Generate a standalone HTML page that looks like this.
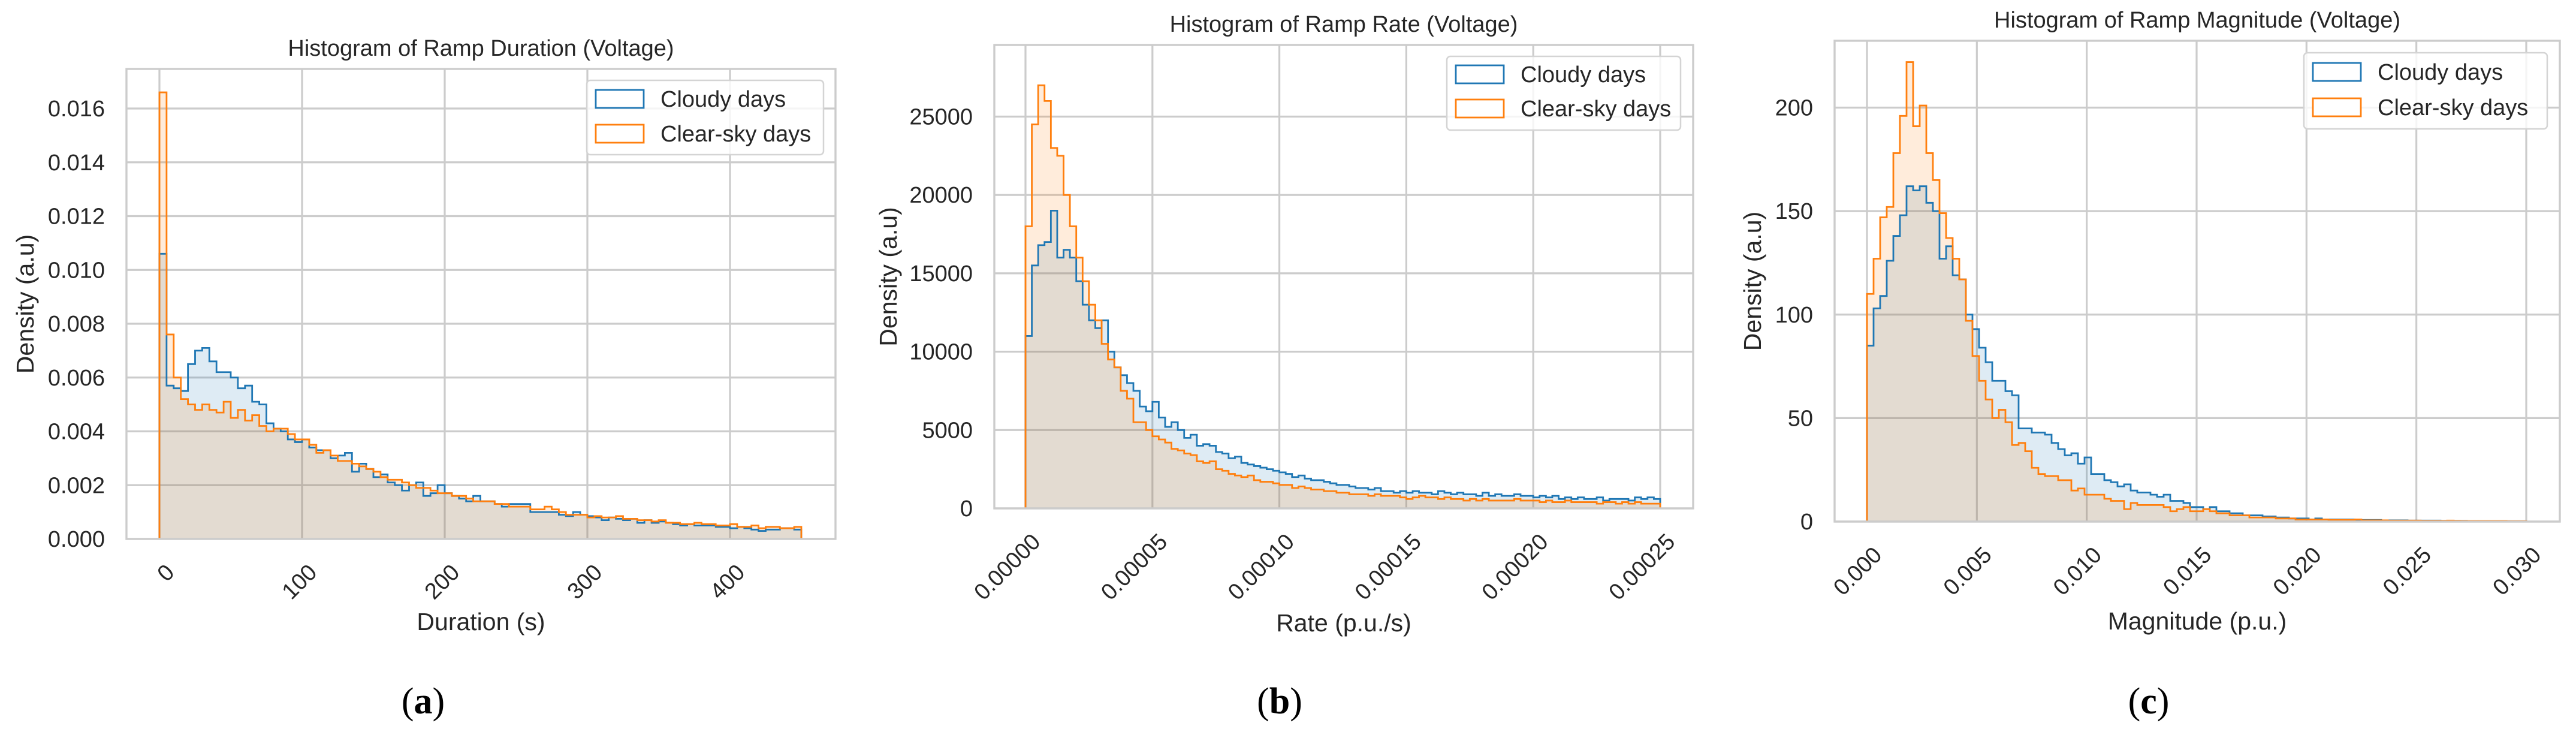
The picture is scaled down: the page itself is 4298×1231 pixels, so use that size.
<!DOCTYPE html>
<html><head><meta charset="utf-8">
<style>
html,body{margin:0;padding:0;background:#fff;}
svg{display:block;font-family:"Liberation Sans",Arial,sans-serif;}
</style></head>
<body>
<svg id="fig" width="4298" height="1231" viewBox="0 0 4298 1231" xmlns="http://www.w3.org/2000/svg"></svg>
<script>
// ---------- Panel (a): Ramp Duration ----------
const durBinWidth = 5;
const durCloudy = [10.6,5.7,5.6,5.5,6.5,7.0,7.1,6.6,6.2,6.2,6.0,5.6,5.7,5.1,5.0,4.3,4.1,4.0,3.7,3.6,3.7,3.4,3.3,3.3,3.0,3.1,3.2,2.5,2.8,2.6,2.3,2.4,2.1,2.0,1.8,2.0,2.1,1.6,1.7,2.0,1.7,1.6,1.5,1.4,1.6,1.4,1.4,1.3,1.2,1.3,1.3,1.3,1.0,1.0,1.0,1.0,0.9,0.85,1.0,0.9,0.85,0.8,0.7,0.8,0.75,0.7,0.75,0.6,0.7,0.6,0.65,0.6,0.55,0.5,0.55,0.5,0.5,0.5,0.45,0.45,0.4,0.45,0.4,0.35,0.3,0.35,0.35,0.4,0.4,0.35];
const durClear = [16.6,7.6,6.0,5.2,5.0,4.8,5.0,4.8,4.7,5.1,4.5,4.8,4.4,4.6,4.2,4.0,4.1,4.1,3.9,3.7,3.7,3.5,3.2,3.3,3.1,2.9,2.9,2.8,2.7,2.6,2.5,2.3,2.2,2.2,2.1,2.0,1.9,1.9,1.8,1.7,1.7,1.6,1.6,1.5,1.4,1.4,1.4,1.3,1.3,1.2,1.2,1.2,1.1,1.1,1.2,1.1,1.0,0.9,0.9,0.9,0.8,0.85,0.8,0.8,0.85,0.75,0.75,0.7,0.7,0.65,0.7,0.6,0.6,0.55,0.55,0.6,0.55,0.55,0.5,0.5,0.55,0.45,0.45,0.5,0.4,0.45,0.45,0.4,0.4,0.45];
const durValueScale = 0.001;
const durXTicks = [0,100,200,300,400];
const durXTickLabels = ["0","100","200","300","400"];
const durYTicks = [0,0.002,0.004,0.006,0.008,0.010,0.012,0.014,0.016];
const durYTickLabels = ["0.000","0.002","0.004","0.006","0.008","0.010","0.012","0.014","0.016"];

// ---------- Panel (b): Ramp Rate ----------
const rateBinWidth = 0.0000025;
const rateCloudy = [11,15.5,16.8,17,19,16,16.5,16,14.5,13,12,11.5,12,10,9,8.5,8,7.5,6.5,6.2,6.8,5.8,5.2,5.5,5.0,4.5,4.7,4.0,4.1,4.0,3.6,3.5,3.2,3.3,2.9,2.8,2.7,2.6,2.5,2.4,2.3,2.2,2.0,2.1,1.9,1.8,1.8,1.7,1.6,1.5,1.5,1.4,1.3,1.3,1.2,1.3,1.1,1.1,1.0,1.1,1.0,1.1,1.0,1.0,0.9,1.1,1.0,0.9,1.0,0.9,0.9,0.8,1.0,0.8,0.9,0.8,0.8,0.9,0.8,0.8,0.7,0.8,0.7,0.8,0.6,0.7,0.6,0.7,0.6,0.6,0.7,0.5,0.6,0.6,0.6,0.5,0.7,0.6,0.7,0.6];
const rateClear = [18,24.5,27,26,23,22.5,20,18,16,14.5,13,12,10.5,9.5,9,7.5,7,5.5,5.5,5.0,4.6,4.4,4.2,3.8,3.7,3.5,3.4,3.0,2.9,3.0,2.5,2.4,2.2,2.1,2.0,2.1,1.8,1.7,1.7,1.6,1.5,1.5,1.3,1.4,1.3,1.2,1.2,1.1,1.1,1.0,1.0,0.9,0.9,0.9,0.8,0.9,0.8,0.8,0.8,0.7,0.6,0.7,0.8,0.7,0.7,0.6,0.7,0.6,0.6,0.5,0.6,0.5,0.6,0.5,0.5,0.5,0.5,0.6,0.5,0.5,0.5,0.4,0.5,0.4,0.4,0.5,0.4,0.4,0.4,0.4,0.3,0.4,0.4,0.3,0.4,0.3,0.4,0.3,0.3,0.3];
const rateValueScale = 1000;
const rateXTicks = [0,0.00005,0.0001,0.00015,0.0002,0.00025];
const rateXTickLabels = ["0.00000","0.00005","0.00010","0.00015","0.00020","0.00025"];
const rateYTicks = [0,5000,10000,15000,20000,25000];
const rateYTickLabels = ["0","5000","10000","15000","20000","25000"];

// ---------- Panel (c): Ramp Magnitude ----------
const magBinWidth = 0.0003;
const magCloudy = [85,103,109,126,138,148,162,160,162,154,150,127,133,119,117,100,93,84,77,68,68,63,61,45,45,43,43,42,38,35,32,33,28,31,23,23,20,19,17,18,15,14,14,13,12,13,10,10,9,7,7,6,7,5,5,4,4,3,3,3,2.5,2.5,2,2,1.5,1.5,1.5,1,1.5,1,1,1,1,1,0.8,0.8,0.8,0.8,0.6,0.6,0.6,0.6,0.5,0.5,0.5,0.5,0.5,0.4,0.4,0.4,0.4,0.3,0.3,0.3,0.3,0.3,0.3,0.2,0.2,0.2];
const magClear = [110,127,147,152,178,196,222,191,201,178,165,149,137,127,117,97,80,68,59,50,54,48,37,38,34,26,23,22,22,20,20,15,16,13,13,13,11,10,10,6,9,8,8,8,8,7,5,6,7,5,5,6,5,4,4,3,3,3,2,2,2,2,1.5,1.5,1.5,1,1,1,1,1,0.8,0.8,0.8,0.8,1,0.6,0.6,0.6,0.6,0.5,0.5,0.5,0.5,0.5,0.4,0.4,0.4,0.4,0.5,0.4,0.3,0.3,0.3,0.3,0.3,0.3,0.3,0.2,0.2,0.2];
const magValueScale = 1;
const magXTicks = [0,0.005,0.01,0.015,0.02,0.025,0.03];
const magXTickLabels = ["0.000","0.005","0.010","0.015","0.020","0.025","0.030"];
const magYTicks = [0,50,100,150,200];
const magYTickLabels = ["0","50","100","150","200"];

const legendLabels = ["Cloudy days","Clear-sky days"];
</script>
<script>
const NS = "http://www.w3.org/2000/svg";
const svg = document.getElementById("fig");
const BLUE = "#1f77b4", ORANGE = "#ff7f0e", GRID = "#cccccc", TXT = "#262626";

function mk(tag, attrs, parent) {
  const e = document.createElementNS(NS, tag);
  for (const k in attrs) e.setAttribute(k, attrs[k]);
  (parent || svg).appendChild(e);
  return e;
}
function lin(d0, d1, r0, r1) { return v => r0 + (v - d0) / (d1 - d0) * (r1 - r0); }

function stepPath(vals, bw, scale, xs, ys) {
  let d = "M" + xs(0).toFixed(2) + "," + ys(0).toFixed(2);
  vals.forEach((v, i) => {
    const y = ys(v * scale).toFixed(2);
    d += " L" + xs(i * bw).toFixed(2) + "," + y + " L" + xs((i + 1) * bw).toFixed(2) + "," + y;
  });
  d += " L" + xs(vals.length * bw).toFixed(2) + "," + ys(0).toFixed(2);
  return d;
}

function panel(p) {
  const g = mk("g", {});
  
  
  const xs = lin(p.xd[0], p.xd[1], p.xr[0], p.xr[1]);
  const ys = lin(p.yd[0], p.yd[1], p.yr[0], p.yr[1]);
  const bg = mk("rect", {x:p.L, y:p.T, width:p.R-p.L, height:p.B-p.T, fill:"#fff"}, g);
  
  
  p.xTicks.forEach((t) => {
    const l = mk("line", {x1:xs(t), x2:xs(t), y1:p.T, y2:p.B, stroke:GRID, "stroke-width":3.2}, g);
    
    
  });
  p.yTicks.forEach((t) => {
    const l = mk("line", {x1:p.L, x2:p.R, y1:ys(t), y2:ys(t), stroke:GRID, "stroke-width":3.2}, g);
    
    
  });
  const series = [[p.cloudy, BLUE, 'cloudy'], [p.clear, ORANGE, 'clear-sky']];
  series.forEach(([vals, col, nm]) => {
    const d = stepPath(vals, p.bw, p.scale, xs, ys);
    const f = mk("path", {d:d + " Z", fill:col, "fill-opacity":0.15, stroke:"none"}, g);
    
    
  });
  series.forEach(([vals, col, nm]) => {
    const d = stepPath(vals, p.bw, p.scale, xs, ys);
    const s = mk("path", {d:d, fill:"none", stroke:col, "stroke-width":2.8, "stroke-linejoin":"miter"}, g);
    
    
  });
  const sp = mk("rect", {x:p.L, y:p.T, width:p.R-p.L, height:p.B-p.T, fill:"none", stroke:GRID, "stroke-width":3.4}, g);
  
  
  p.yTicks.forEach((t, i) => {
    const tx = mk("text", {x:p.L-36, y:ys(t)+13, "text-anchor":"end", "font-size":38, fill:TXT}, g);
    tx.textContent = p.yLabels[i];
    
    
  });
  p.xTicks.forEach((t, i) => {
    const ex = xs(t) + 27, ey = p.B + 58;
    const tx = mk("text", {x:ex, y:ey, "text-anchor":"end", "font-size":38, fill:TXT, transform:"rotate(-45 "+ex+" "+ey+")"}, g);
    tx.textContent = p.xLabels[i];
    
    
  });
  const ti = mk("text", {x:(p.L+p.R)/2, y:p.titleY, "text-anchor":"middle", "font-size":38, fill:TXT}, g);
  ti.textContent = p.title;
  
  
  const xl = mk("text", {x:(p.L+p.R)/2, y:p.xLabelY, "text-anchor":"middle", "font-size":41, fill:TXT}, g);
  xl.textContent = p.xTitle;
  
  
  const cy = (p.T+p.B)/2;
  const yl = mk("text", {x:p.yLabelX, y:cy, "text-anchor":"middle", "font-size":41, fill:TXT, transform:"rotate(-90 "+p.yLabelX+" "+cy+")"}, g);
  yl.textContent = "Density (a.u)";
  
  
  const lg = mk("g", {}, g);
  
  
  const lb = mk("rect", {x:p.leg[0], y:p.leg[1], width:p.leg[2], height:p.leg[3], rx:6, fill:"#fff", "fill-opacity":0.8, stroke:"#d4d4d4", "stroke-width":2.5}, lg);
  
  
  [[BLUE, p.legRows[0]], [ORANGE, p.legRows[1]]].forEach(([col, ry], i) => {
    const pr = mk("rect", {x:p.leg[0]+15, y:ry-15, width:80, height:30, fill:"#fff", stroke:col, "stroke-width":2.8}, lg);
    
    
    const lt = mk("text", {x:p.leg[0]+123, y:ry+13, "font-size":38, fill:TXT}, lg);
    lt.textContent = legendLabels[i];
    
    
  });
  const sc = mk("text", {x:p.capX, y:1190, "text-anchor":"middle", "font-size":62, fill:"#000", "font-family":"'Liberation Serif', serif"}, g);
  sc.innerHTML = '(<tspan font-weight="bold">' + p.cap + '</tspan>)';
  
  
}

panel({id:"duration", L:211, R:1394, T:115, B:899,
  xd:[0,100], xr:[266,504], yd:[0,0.016], yr:[899,181],
  cloudy:durCloudy, clear:durClear, bw:durBinWidth, scale:durValueScale,
  xTicks:durXTicks, xLabels:durXTickLabels, yTicks:durYTicks, yLabels:durYTickLabels,
  title:"Histogram of Ramp Duration (Voltage)", titleY:93, xTitle:"Duration (s)", xLabelY:1051, yLabelX:56,
  leg:[979,134,395,124], legRows:[165,223], cap:"a", capX:706});

panel({id:"rate", L:1659, R:2825, T:75, B:848,
  xd:[0,0.00025], xr:[1711,2770], yd:[0,25000], yr:[848,194.5],
  cloudy:rateCloudy, clear:rateClear, bw:rateBinWidth, scale:rateValueScale,
  xTicks:rateXTicks, xLabels:rateXTickLabels, yTicks:rateYTicks, yLabels:rateYTickLabels,
  title:"Histogram of Ramp Rate (Voltage)", titleY:53, xTitle:"Rate (p.u./s)", xLabelY:1053, yLabelX:1496,
  leg:[2414,94,390,123], legRows:[124,181], cap:"b", capX:2135});

panel({id:"magnitude", L:3061, R:4271, T:68, B:870,
  xd:[0,0.03], xr:[3115,4215], yd:[0,200], yr:[870,179.5],
  cloudy:magCloudy, clear:magClear, bw:magBinWidth, scale:magValueScale,
  xTicks:magXTicks, xLabels:magXTickLabels, yTicks:magYTicks, yLabels:magYTickLabels,
  title:"Histogram of Ramp Magnitude (Voltage)", titleY:46, xTitle:"Magnitude (p.u.)", xLabelY:1050, yLabelX:2938,
  leg:[3844,88,406,127], legRows:[120,179], cap:"c", capX:3585});
</script>
</body></html>
